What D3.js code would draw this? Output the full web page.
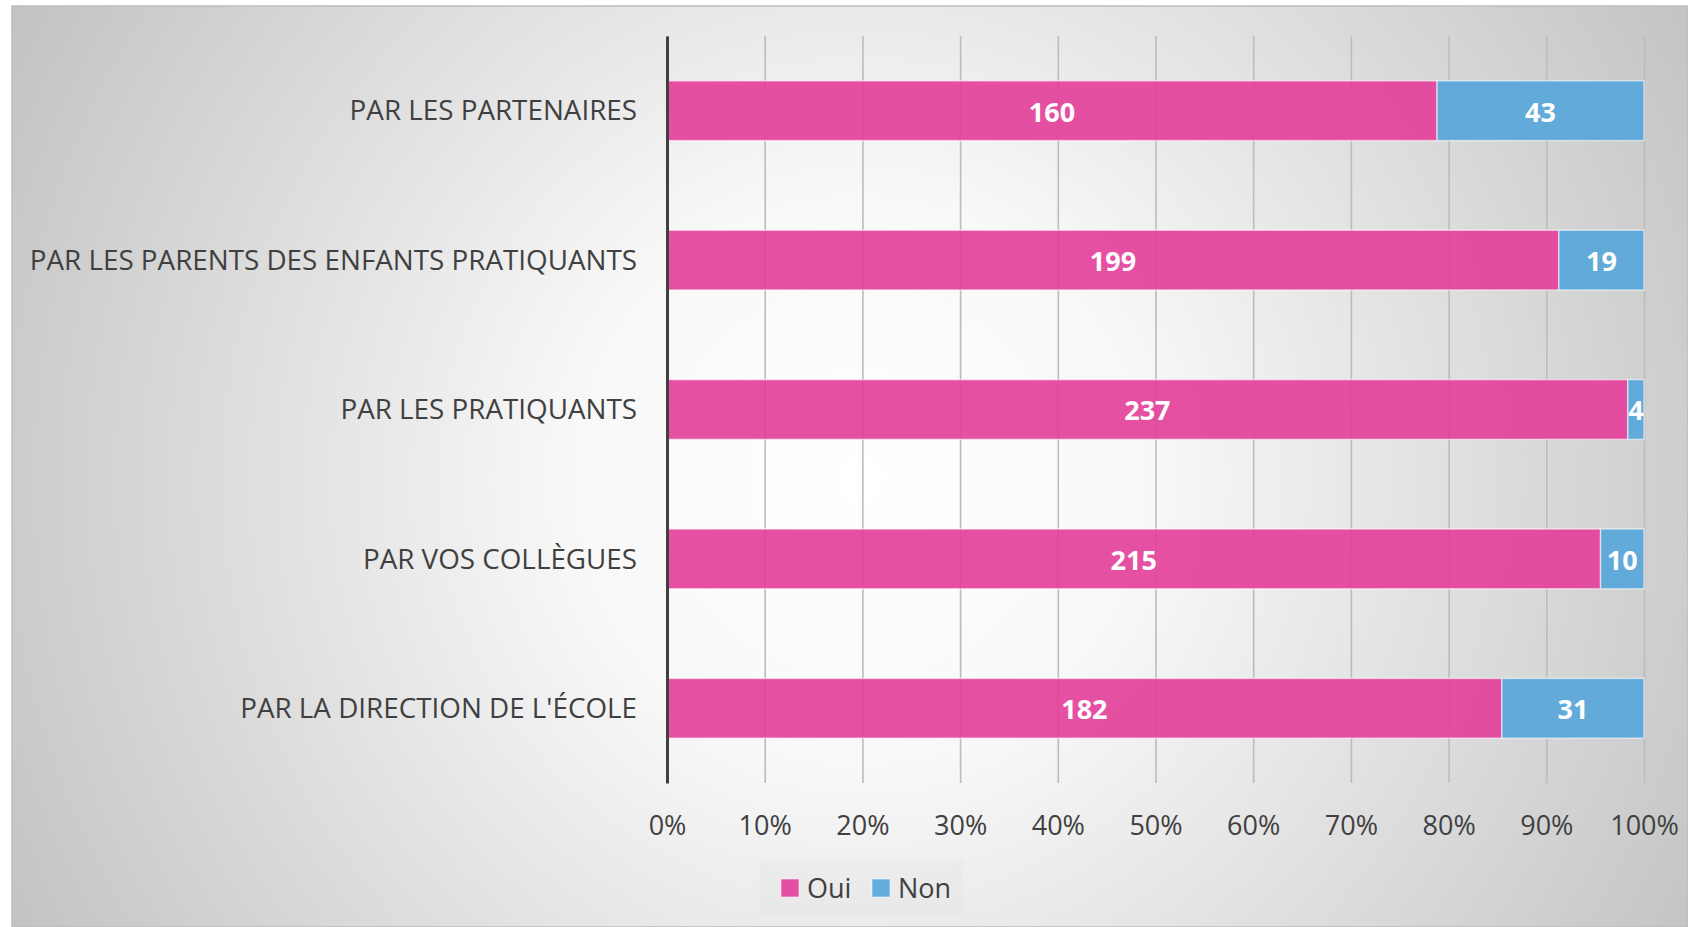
<!DOCTYPE html>
<html>
<head>
<meta charset="utf-8">
<script src="https://cdn.jsdelivr.net/npm/d3@7"></script>
<style>
  body { margin: 0; background: #ffffff; }
  svg { display: block; font-family: 'Open Sans', sans-serif; }
</style>
</head>
<body>
<svg></svg>
<script>
let categories = ['PAR LES PARTENAIRES', 'PAR LES PARENTS DES ENFANTS PRATIQUANTS', 'PAR LES PRATIQUANTS', 'PAR VOS COLLÈGUES', "PAR LA DIRECTION DE L'ÉCOLE"]
let ouiValues = [160, 199, 237, 215, 182]
let nonValues = [43, 19, 4, 10, 31]
let seriesNames = ['Oui', 'Non']
let seriesColors = ['#e4419b', '#58a6d9']
let tickValues = [0, 0.1, 0.2, 0.3, 0.4, 0.5, 0.6, 0.7, 0.8, 0.9, 1]

let width = 1688
let height = 927
let plotLeft = 667
let plotRight = 1644
let plotTop = 36
let plotBottom = 783
let font = "'Open Sans', sans-serif"

let svg = d3.select('svg')
svg.attr('width', width).attr('height', height)

// background: radial grey fill like the office chart area
let defs = svg.append('defs')
let grad = defs.append('radialGradient')
   .attr('id', 'bg')
   .attr('gradientUnits', 'userSpaceOnUse')
   .attr('cx', 860).attr('cy', 480).attr('r', 960)
grad.append('stop').attr('offset', 0).attr('stop-color', '#ffffff')
grad.append('stop').attr('offset', 0.3).attr('stop-color', '#f8f8f8')
grad.append('stop').attr('offset', 1).attr('stop-color', '#c3c3c3')

svg.append('rect')
   .attr('x', 12).attr('y', 6)
   .attr('width', width - 12).attr('height', height - 6)
   .attr('fill', 'url(#bg)')
   .attr('stroke', '#bdbdbd')
   .attr('stroke-width', 1.5)

// stacked rows as shares of each total
let rows = categories.map((c, i) => {
    let total = ouiValues[i] + nonValues[i]
    return {cat: c, vals: [ouiValues[i], nonValues[i]], total: total}
})

let xScale = d3.scaleLinear().domain([0, 1]).range([plotLeft, plotRight])
let yScale = d3.scaleBand().domain(categories).range([plotTop, plotBottom])
               .paddingInner(0.6).paddingOuter(0.3)

// grid + bottom labels
let xAxis = d3.axisBottom(xScale)
              .tickValues(tickValues)
              .tickFormat(d3.format('.0%'))
              .tickSize(-(plotBottom - plotTop))
              .tickPadding(33)

let gx = svg.append('g')
   .attr('transform', 'translate(0,' + plotBottom + ')')
   .call(xAxis)
   .attr('font-family', font)
   .attr('font-size', 27)
gx.select('.domain').remove()
gx.selectAll('line').attr('stroke', '#bcbcbc').attr('stroke-width', 1.6)
gx.selectAll('text').attr('fill', '#404040')

// bars
let segs = []
rows.forEach(r => {
    let start = 0
    r.vals.forEach((v, k) => {
        let share = v / r.total
        segs.push({cat: r.cat, k: k, v: v, x0: start, x1: start + share})
        start += share
    })
})

svg.selectAll('rect.seg')
   .data(segs)
   .enter()
   .append('rect')
   .attr('class', 'seg')
   .attr('x', d => xScale(d.x0))
   .attr('y', d => yScale(d.cat))
   .attr('width', d => xScale(d.x1) - xScale(d.x0))
   .attr('height', yScale.bandwidth())
   .attr('fill', d => seriesColors[d.k])
   .attr('fill-opacity', 0.92)
   .attr('stroke', 'rgba(255,255,255,0.55)')
   .attr('stroke-width', 1.5)

svg.selectAll('text.val')
   .data(segs)
   .enter()
   .append('text')
   .attr('class', 'val')
   .attr('x', d => (xScale(d.x0) + xScale(d.x1)) / 2)
   .attr('y', d => yScale(d.cat) + yScale.bandwidth() / 2)
   .attr('dy', '0.4em')
   .attr('text-anchor', 'middle')
   .attr('fill', '#ffffff')
   .style('font-size', '27px')
   .style('font-weight', 'bold')
   .text(d => d.v)

// category axis
let yAxis = d3.axisLeft(yScale).tickSize(0).tickSizeOuter(0).tickPadding(30)
let gy = svg.append('g')
   .attr('transform', 'translate(' + plotLeft + ',0)')
   .call(yAxis)
   .attr('font-family', font)
   .attr('font-size', 27.8)
gy.select('.domain').attr('stroke', '#404040').attr('stroke-width', 3)
gy.selectAll('text').attr('fill', '#404040').attr('dy', '0.35em')

// legend
let legend = svg.append('g')
legend.append('rect')
   .attr('x', 759).attr('y', 860)
   .attr('width', 204).attr('height', 55)
   .attr('fill', 'rgba(215,215,215,0.15)')

let legendX = [781, 872]
let items = legend.selectAll('g.item')
   .data(seriesNames)
   .enter()
   .append('g')
   .attr('class', 'item')
   .attr('transform', (d, i) => 'translate(' + legendX[i] + ',879)')
items.append('rect')
   .attr('width', 18).attr('height', 18)
   .attr('fill', (d, i) => seriesColors[i])
   .attr('fill-opacity', 0.92)
   .attr('stroke', 'rgba(255,255,255,0.55)')
items.append('text')
   .attr('x', 26).attr('y', 9)
   .attr('dy', '0.38em')
   .attr('fill', '#404040')
   .style('font-size', '27px')
   .text(d => d)
</script>
</body>
</html>
